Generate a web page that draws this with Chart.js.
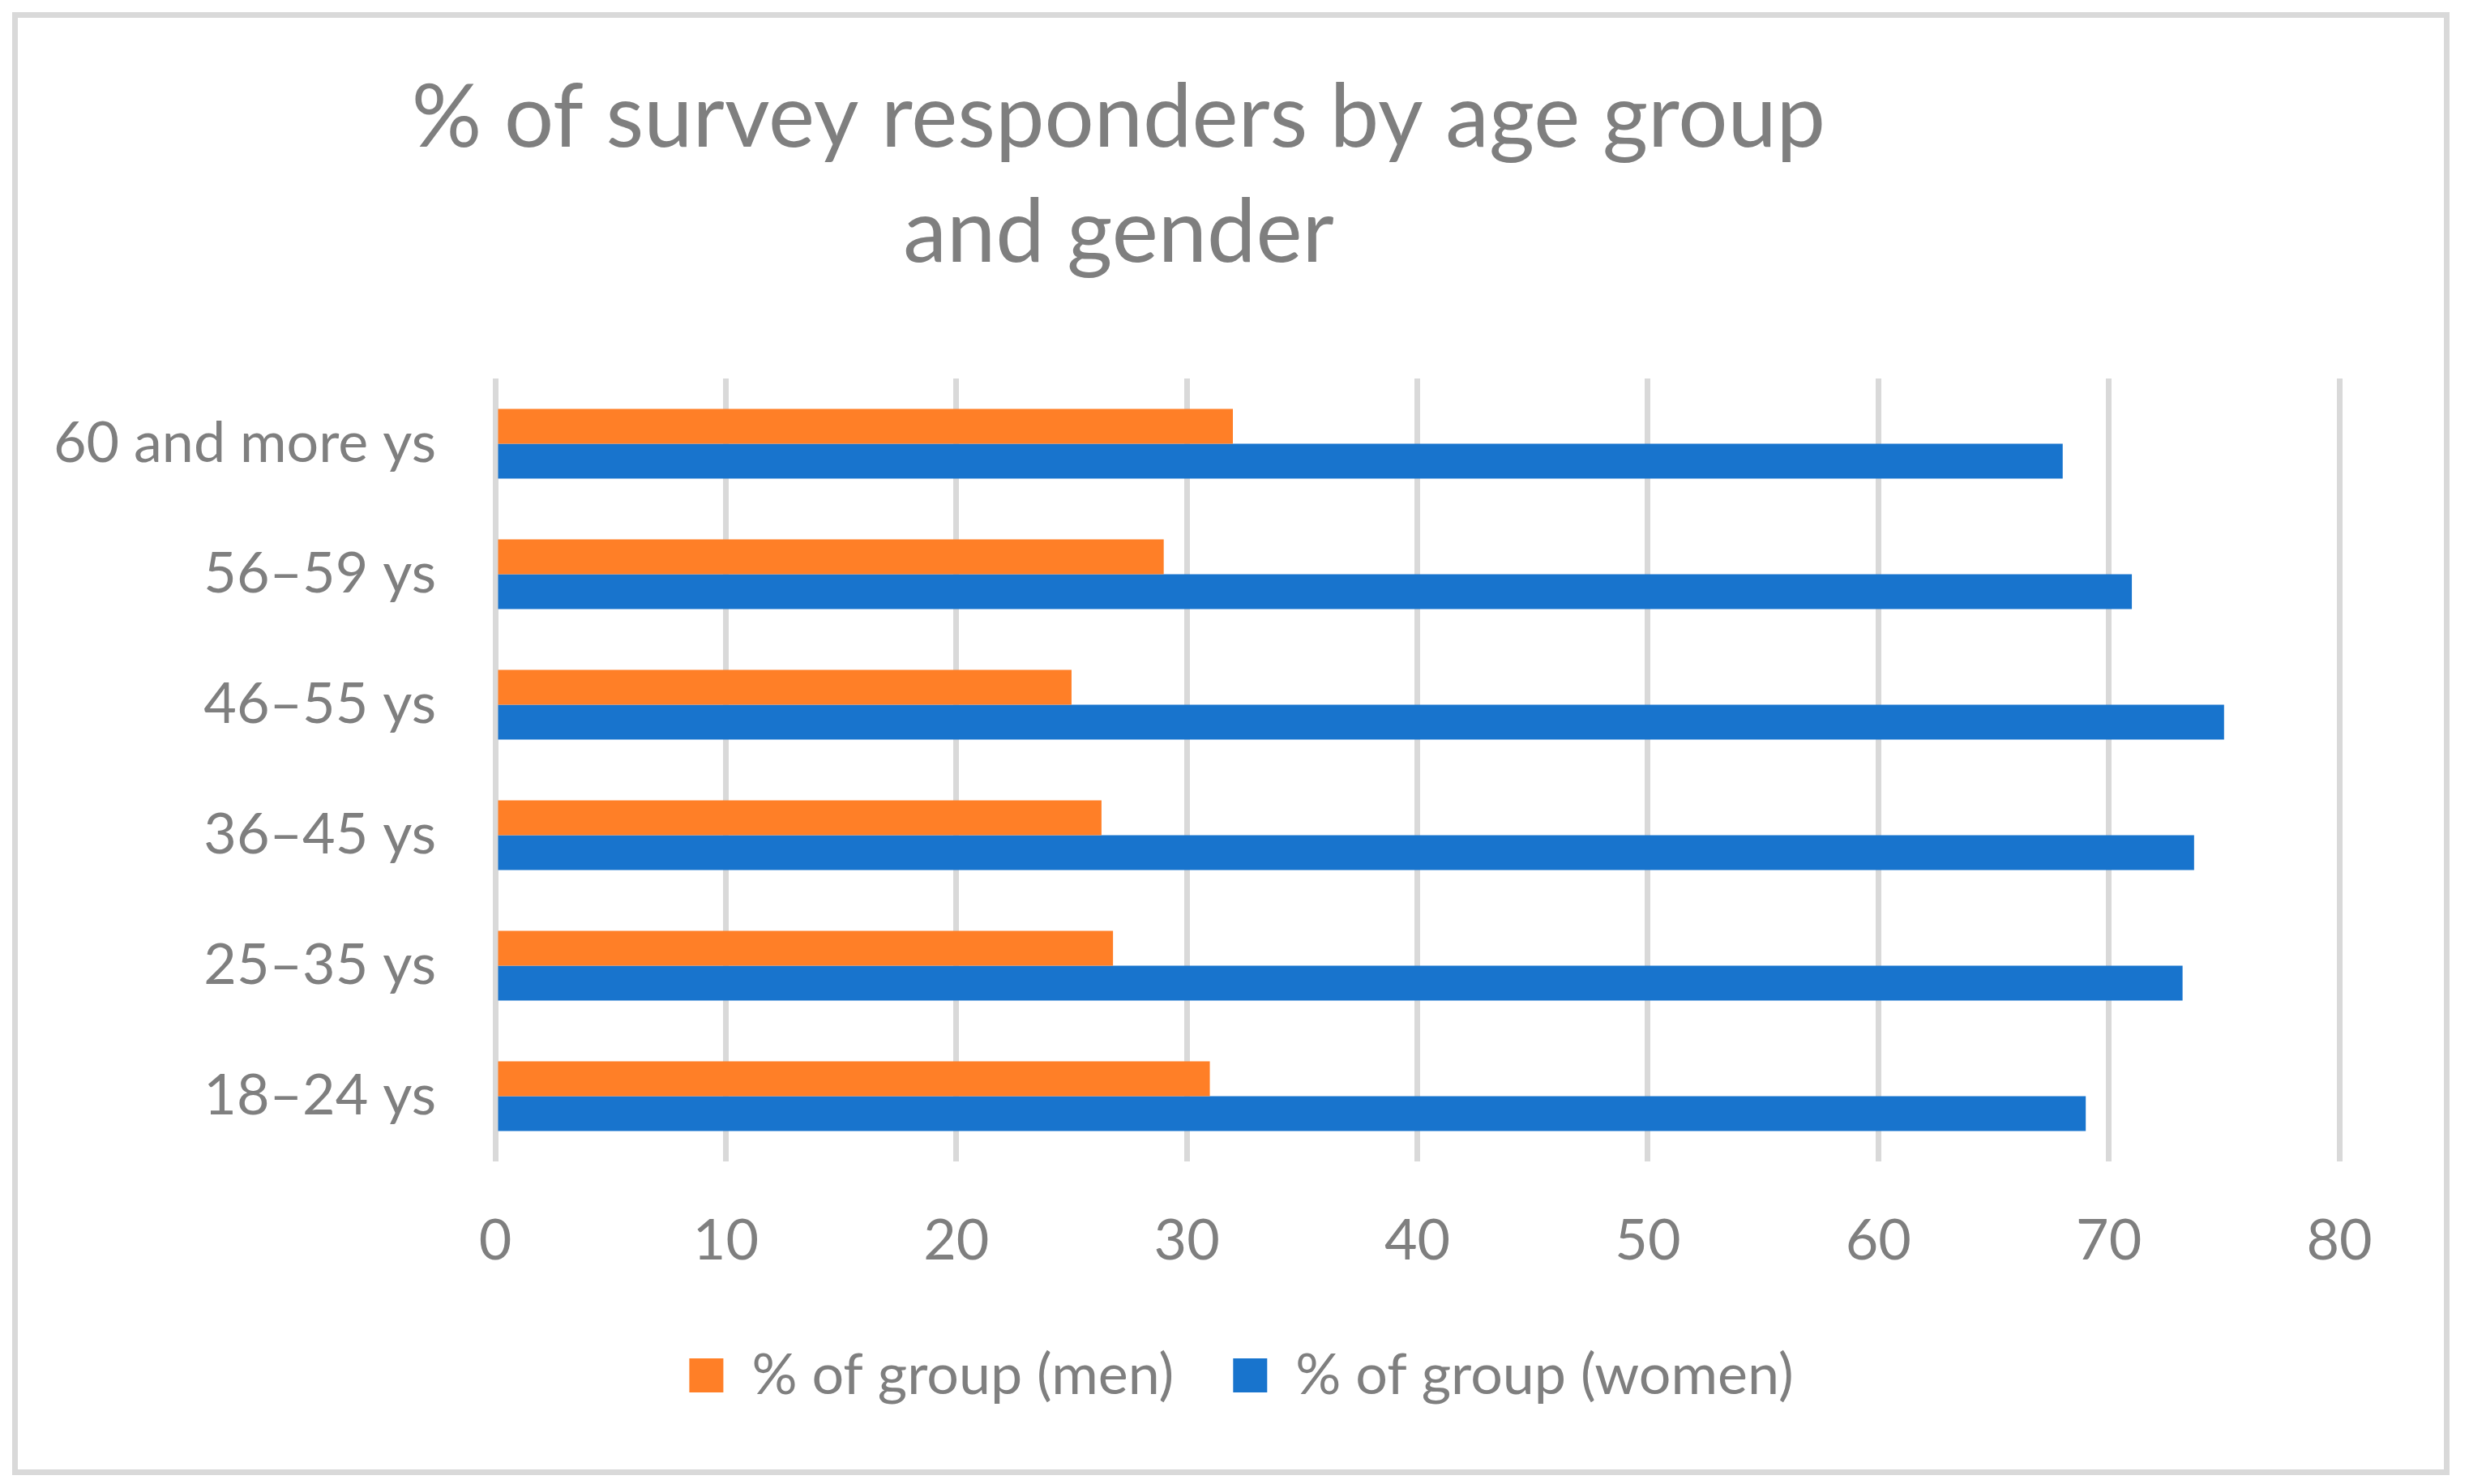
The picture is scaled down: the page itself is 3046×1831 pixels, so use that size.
<!DOCTYPE html>
<html lang="en">
<head>
  <meta charset="UTF-8">
  <title>% of survey responders by age group and gender</title>
  <script src="https://cdn.jsdelivr.net/npm/chart.js"></script>
  <style>
    html, body {
      margin: 0;
      padding: 0;
      background: #ffffff;
      overflow: hidden;
    }

    .frame {
      position: absolute;
      left: 15px;
      top: 15px;
      width: 3007px;
      height: 1805px;
      box-sizing: border-box;
      border: 7px solid #d9d9d9;
      background: #ffffff;
    }
  </style>
</head>
<body>
  <div class="frame">
    <canvas id="surveyChart"></canvas>
  </div>

  <script>
    // data, top row first
    const ageGroups = ['60 and more ys', '56–59 ys', '46–55 ys', '36–45 ys', '25–35 ys', '18–24 ys'];
    const menShare = [32, 29, 25, 26.3, 26.8, 31];
    const womenShare = [68, 71, 75, 73.7, 73.2, 69];
    const valueTicks = [0, 10, 20, 30, 40, 50, 60, 70, 80];
    const seriesNames = ['% of group (men)', '% of group (women)'];
    const titleLines = ['% of survey responders by age group', 'and gender'];

    const textGrey = '#7f7f7f';
    const fontFamily = 'Lato, "Open Sans", sans-serif';

    // title sits left of centre in the original, so it is drawn by hand
    const titlePlugin = {
      id: 'offsetTitle',
      afterDraw(chart) {
        const ctx = chart.ctx;
        ctx.save();
        ctx.fillStyle = textGrey;
        ctx.font = '108px ' + fontFamily;
        ctx.textAlign = 'center';
        ctx.textBaseline = 'alphabetic';
        ctx.fillText(titleLines[0], 1358, 159);
        ctx.fillText(titleLines[1], 1358, 301);
        ctx.restore();
      }
    };

    const ctx = document.getElementById('surveyChart').getContext('2d');

    new Chart(ctx, {
      type: 'bar',
      data: {
        labels: ageGroups,
        datasets: [
          {
            label: seriesNames[0],
            data: menShare,
            backgroundColor: '#ff7f27',
            borderWidth: 0,
            categoryPercentage: 0.534,
            barPercentage: 1.0
          },
          {
            label: seriesNames[1],
            data: womenShare,
            backgroundColor: '#1874cd',
            borderWidth: 0,
            categoryPercentage: 0.534,
            barPercentage: 1.0
          }
        ]
      },
      options: {
        indexAxis: 'y',
        responsive: true,
        maintainAspectRatio: false,
        animation: false,
        devicePixelRatio: 1,
        layout: {
          padding: { top: 445, right: 0, bottom: 71, left: 26 }
        },
        scales: {
          x: {
            min: valueTicks[0],
            max: valueTicks[valueTicks.length - 1],
            ticks: {
              stepSize: valueTicks[1] - valueTicks[0],
              color: textGrey,
              font: { family: fontFamily, size: 70 },
              padding: 56
            },
            grid: {
              color: '#d9d9d9',
              lineWidth: 7,
              drawTicks: false
            },
            border: { display: false },
            afterFit(scale) {
              scale.height = 156;
            }
          },
          y: {
            ticks: {
              color: textGrey,
              font: { family: fontFamily, size: 70 },
              padding: 73
            },
            grid: { display: false, drawTicks: false },
            border: { display: false },
            afterFit(scale) {
              scale.width = 563;
            }
          },
          // empty right-hand gutter so the plot stops short of the frame
          // while the legend stays centred on the whole chart
          yGutter: {
            type: 'category',
            position: 'right',
            ticks: { display: false },
            grid: { display: false, drawTicks: false },
            border: { display: false },
            afterFit(scale) {
              scale.width = 129;
            }
          }
        },
        plugins: {
          title: { display: false },
          tooltip: { enabled: false },
          legend: {
            position: 'bottom',
            labels: {
              boxWidth: 42,
              boxHeight: 42,
              padding: 73,
              color: textGrey,
              font: { family: fontFamily, size: 70 }
            }
          }
        }
      },
      plugins: [titlePlugin]
    });
  </script>
</body>
</html>
